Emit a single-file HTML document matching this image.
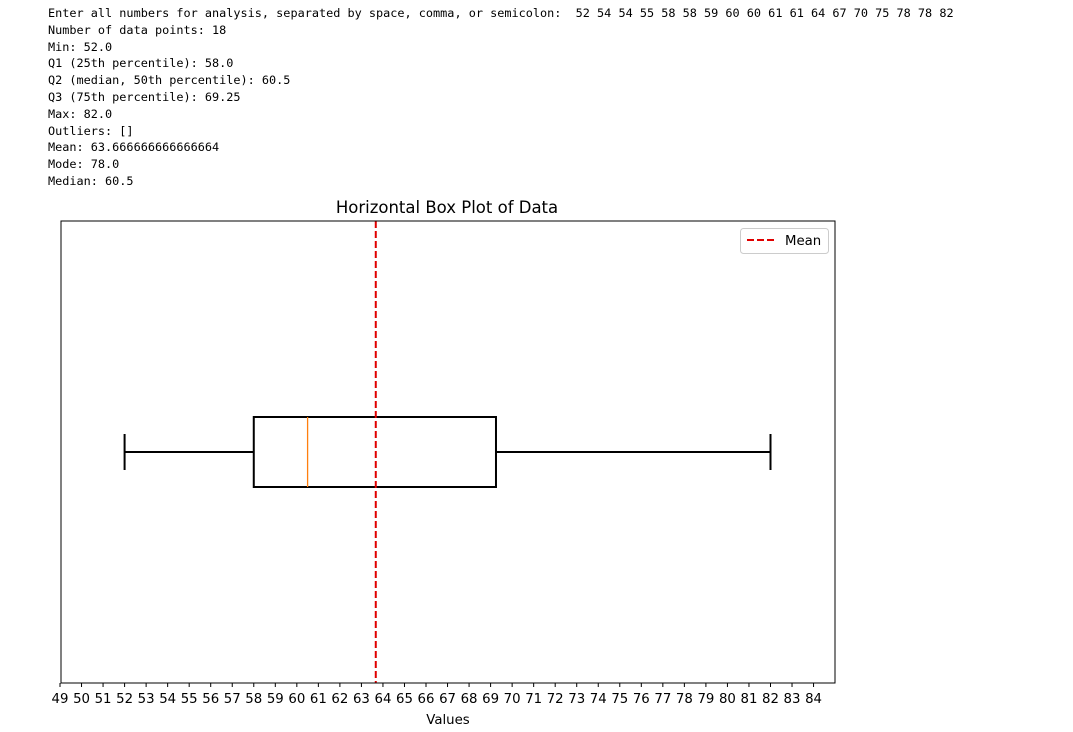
<!DOCTYPE html>
<html><head><meta charset="utf-8"><style>
body{margin:0;background:#fff;width:1073px;height:732px;overflow:hidden}
pre{position:absolute;left:48px;top:5px;margin:0;font:11.85px/16.8px "DejaVu Sans Mono","Liberation Mono",monospace;color:#000}
svg{position:absolute;left:0;top:0}
</style></head><body>
<pre>Enter all numbers for analysis, separated by space, comma, or semicolon:  52 54 54 55 58 58 59 60 60 61 61 64 67 70 75 78 78 82
Number of data points: 18
Min: 52.0
Q1 (25th percentile): 58.0
Q2 (median, 50th percentile): 60.5
Q3 (75th percentile): 69.25
Max: 82.0
Outliers: []
Mean: 63.666666666666664
Mode: 78.0
Median: 60.5</pre>
<svg id="c" width="1073" height="732" font-family="DejaVu Sans, Liberation Sans, sans-serif"></svg>
<script>
const stats=[52,58,60.5,69.25,82];
const meanVal=[63.666666666666664];
const tickVals=[];for(let t=49;t<=84;t++)tickVals.push(t);
const X0=49,X1=85,L=61,R=835,T=221,B=683;
const x=v=>L-1+(v-X0)*21.53;
const svg=document.getElementById('c');const NS='http://www.w3.org/2000/svg';
function mk(tag,at,name,txt){const e=document.createElementNS(NS,tag);for(const k in at)e.setAttribute(k,at[k]);


if(txt!==undefined)e.textContent=txt;svg.appendChild(e);return e;}
const yc=452,bh=35,ch=18;
mk('line',{x1:x(stats[0]),x2:x(stats[1]),y1:yc,y2:yc,stroke:'#000','stroke-width':2},'lower-whisker');
mk('line',{x1:x(stats[3]),x2:x(stats[4]),y1:yc,y2:yc,stroke:'#000','stroke-width':2},'upper-whisker');
mk('line',{x1:x(stats[0]),x2:x(stats[0]),y1:yc-ch,y2:yc+ch,stroke:'#000','stroke-width':2},'lower-cap');
mk('line',{x1:x(stats[4]),x2:x(stats[4]),y1:yc-ch,y2:yc+ch,stroke:'#000','stroke-width':2},'upper-cap');
mk('rect',{x:x(stats[1]),y:yc-bh,width:x(stats[3])-x(stats[1]),height:2*bh,fill:'none',stroke:'#000','stroke-width':2},'box-iqr');
mk('line',{x1:x(stats[2]),x2:x(stats[2]),y1:yc-bh,y2:yc+bh,stroke:'#ff7f0e','stroke-width':1.3},'median-line');
mk('line',{x1:x(meanVal[0]),x2:x(meanVal[0]),y1:T,y2:B,stroke:'#e00000','stroke-width':2,'stroke-dasharray':'7,3'},'mean-line');
mk('rect',{x:L,y:T,width:R-L,height:B-T,fill:'none',stroke:'#000','stroke-width':1},'plot-frame');
tickVals.forEach(t=>{mk('line',{x1:x(t),x2:x(t),y1:B,y2:B+4,stroke:'#000'},'x-tick');
mk('text',{x:x(t),y:B+20,'text-anchor':'middle','font-size':13.3},'x-tick-label',t);});
mk('text',{x:448,y:724,'text-anchor':'middle','font-size':13.3},'x-axis-title','Values');
mk('text',{x:447,y:213,'text-anchor':'middle','font-size':16.5},'chart-title','Horizontal Box Plot of Data');
mk('rect',{x:740.5,y:228.5,width:88,height:25,rx:3,fill:'#fff',stroke:'#ccc'},'legend-box');
mk('line',{x1:747,x2:775,y1:240,y2:240,stroke:'#e00000','stroke-width':2,'stroke-dasharray':'7,3'},'legend-mean-swatch');
mk('text',{x:785,y:245,'font-size':13.3},'legend-mean-label','Mean');
</script>
</body></html>
